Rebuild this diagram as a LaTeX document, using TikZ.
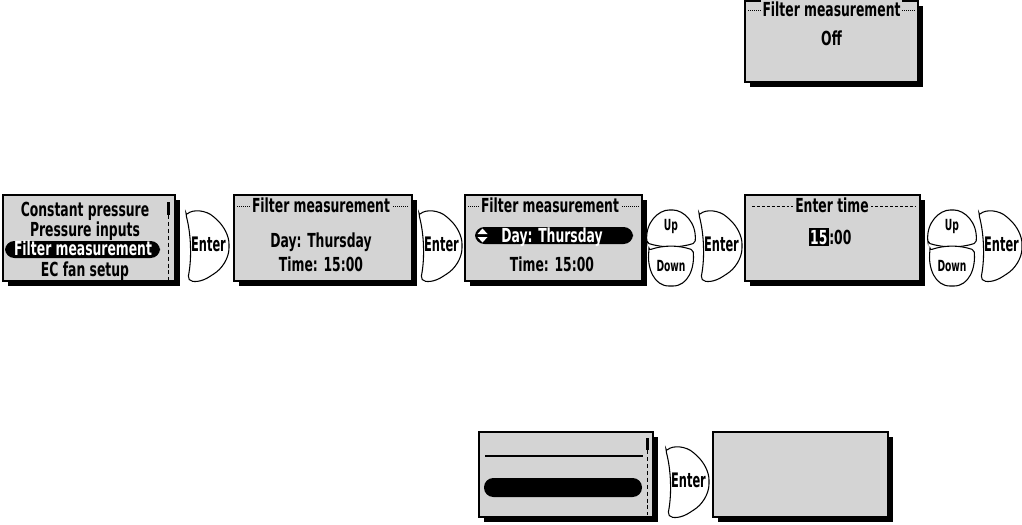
\documentclass[tikz,border=0pt]{standalone}
\usepackage{fontspec}
\newfontfamily\lcdfont{DejaVu Sans}[FakeStretch=0.64]
\newfontfamily\btnfont{DejaVu Sans}[FakeStretch=0.57]
\newfontfamily\udfont{DejaVu Sans}[FakeStretch=0.6]
\definecolor{lcd}{RGB}{212,212,212}
\tikzset{
  lcdtxt/.style={font=\lcdfont\bfseries\fontsize{14.5}{16}\selectfont, inner sep=0pt, anchor=base},
  titletxt/.style={lcdtxt, fill=lcd, inner xsep=1.5pt, inner ysep=1pt},
  btn/.style={draw=black, fill=white, line width=0.8pt, rounded corners=1.5pt},
  btntxt/.style={font=\btnfont\bfseries\fontsize{15}{16}\selectfont, inner sep=0pt},
  udtxt/.style={font=\udfont\bfseries\fontsize{11.5}{12}\selectfont, inner sep=0pt},
  frame/.style={draw=black, fill=lcd, line width=1pt},
  shadow/.style={fill=black},
  dotline/.style={line width=0.6pt, dash pattern=on 0.75pt off 0.75pt},
  dashline/.style={line width=0.6pt, dash pattern=on 2.2pt off 1.5pt},
  pill/.style={fill=black, rounded corners=7pt},
  scrolldash/.style={line width=0.6pt, dash pattern=on 3pt off 2.2pt},
}
\newcommand\Screen[4]{%
  \fill[shadow] ({#1+5},{#2+5}) rectangle ({#3+5},{#4+5});
  \draw[frame] (#1,#2) rectangle (#3,#4);}
\newcommand\EnterBtn[3]{%
  \begin{scope}[shift={(#2,#3)}]
    \draw[btn] (3,5) .. controls (10,-1) and (23,0) .. (32,8)
      .. controls (41,16) and (46,26) .. (46,36)
      .. controls (46,48) and (39,59) .. (29,65)
      .. controls (19,72) and (9,73) .. (5,68)
      .. controls (9,48) and (8,24) .. (3,5) -- cycle;
    \node[btntxt] (#1) at (25.5,34) {Enter};
  \end{scope}}
\newcommand\UpDownBtn[3]{%
  \begin{scope}[shift={(#2,#3)}]
    \draw[btn] (1,33) .. controls (-1,12) and (13,0) .. (25,0)
      .. controls (37,0) and (51,12) .. (49,33)
      .. controls (33,38) and (17,38) .. (1,33) -- cycle;
    \draw[btn] (3,40) .. controls (18,35) and (32,35) .. (47,40)
      .. controls (49,58) and (42,76) .. (25,76)
      .. controls (8,76) and (1,58) .. (3,40) -- cycle;
    \node[udtxt] (#1u) at (25,17) {Up};
    \node[udtxt] (#1d) at (25,56) {Down};
  \end{scope}}
\begin{document}
\begin{tikzpicture}[x=0.75pt,y=-0.75pt]
\useasboundingbox (0,0) rectangle (1022,525);

% ---- top screen: Off
\Screen{745}{1}{918}{82}
\draw[dotline] (748,10) -- (915,10);
\node[titletxt] (t0) at (831.5,16) {Filter measurement};
\node[lcdtxt] (off) at (831.5,45) {Off};

% ---- screen 1: menu
\Screen{3}{195}{175}{281}
\fill[black] (166.5,202) rectangle (169.5,215);
\draw[scrolldash] (168,215) -- (168,280);
\node[lcdtxt] (m1) at (85,216) {Constant pressure};
\node[lcdtxt] (m2) at (85,236) {Pressure inputs};
\fill[pill] (5,241) rectangle (160,258);
\node[lcdtxt, text=white] (m3) at (83,255.5) {Filter measurement};
\node[lcdtxt] (m4) at (85,276) {EC fan setup};
\EnterBtn{e1}{183}{210}

% ---- screen 2
\Screen{234}{195}{412}{281}
\draw[dotline] (237,206) -- (409,206);
\node[titletxt] (t2) at (321,212) {Filter measurement};
\node[lcdtxt] (d2) at (321,247) {Day: Thursday};
\node[lcdtxt] (h2) at (321,271.5) {Time: 15:00};
\EnterBtn{e2}{416}{210}

% ---- screen 3
\Screen{465}{195}{642}{281}
\draw[dotline] (468,206) -- (639,206);
\node[titletxt] (t3) at (550,212) {Filter measurement};
\fill[pill] (475,227) rectangle (633,244);
\fill[white] (477.5,234) -- (487.5,234) -- (482.5,228.5) -- cycle;
\fill[white] (477.5,237) -- (487.5,237) -- (482.5,242.5) -- cycle;
\node[lcdtxt, text=white] (d3) at (552,242) {Day: Thursday};
\node[lcdtxt] (h3) at (552,271) {Time: 15:00};
\UpDownBtn{ud3}{646}{210}
\EnterBtn{e3}{696}{210}

% ---- screen 4
\Screen{745}{195}{920}{281}
\draw[dashline] (752,206) -- (916,206);
\node[titletxt] (t4) at (832,212) {Enter time};
\node[lcdtxt, fill=black, text=white, inner xsep=1pt, inner ysep=1.5pt, anchor=base east] (hh) at (829,244) {15};
\node[lcdtxt, anchor=base west] (mm) at (hh.base east) {:00};
\UpDownBtn{ud4}{927}{210}
\EnterBtn{e4}{976}{210}

% ---- bottom screens
\Screen{479}{432}{653}{517}
\fill[black] (645.5,438) rectangle (648.5,450);
\draw[scrolldash] (647,450) -- (647,515);
\draw[line width=1pt] (485,456) -- (643,456);
\fill[pill] (484,478) rectangle (642,497);
\EnterBtn{e5}{663}{446}
\Screen{713}{432}{888}{517}
\end{tikzpicture}
\end{document}
